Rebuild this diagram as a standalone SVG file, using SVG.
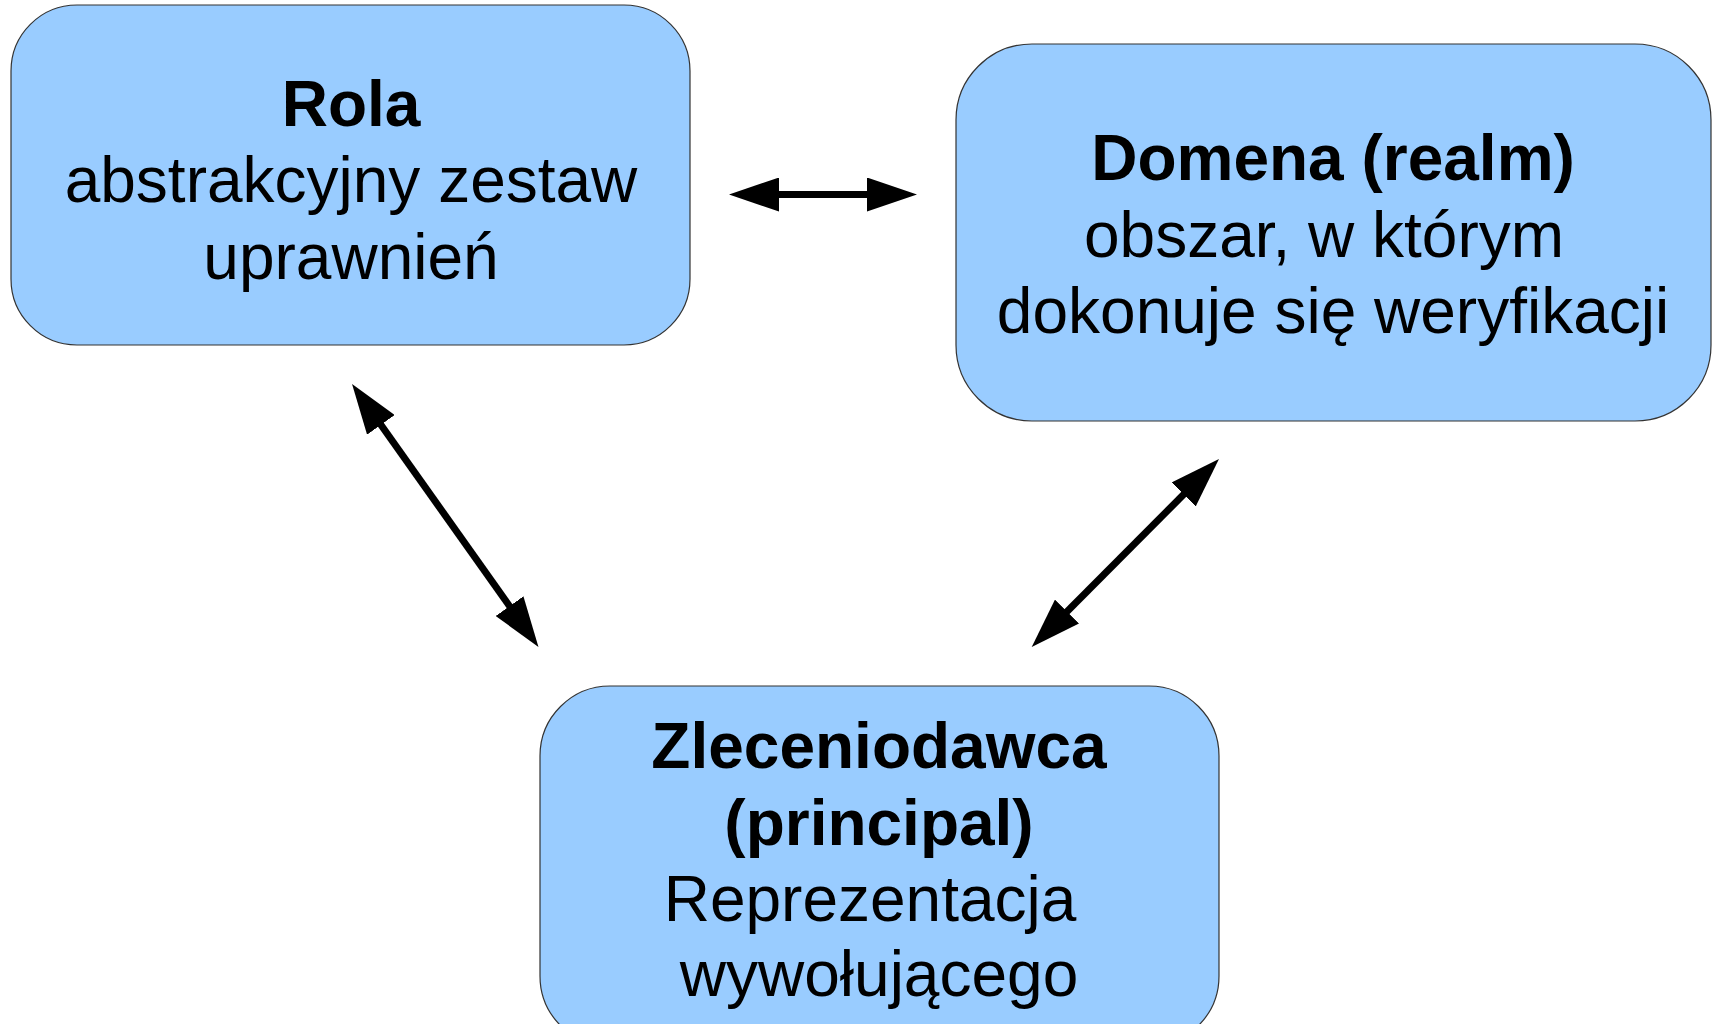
<svg xmlns="http://www.w3.org/2000/svg" width="1713" height="1024" viewBox="0 0 1713 1024">
<style>
.box{fill:#99ccff;stroke:#333333;stroke-width:1.2}
.t{font-family:"Liberation Sans",Arial,sans-serif;font-size:64px;fill:#000;text-anchor:middle}
.b{font-weight:bold}
.c{stroke:#000;stroke-width:7;fill:none}
</style>
<defs>
<marker id="ah" viewBox="0 0 50 34" markerWidth="50" markerHeight="34" markerUnits="userSpaceOnUse" refX="2" refY="17" orient="auto-start-reverse">
<path d="M0,0 L50,17 L0,34 z" fill="#000"/>
</marker>
</defs>
<rect width="1713" height="1024" fill="#fff"/>
<g id="rola">
<rect class="box" x="11" y="5" width="679" height="340" rx="66" ry="66"/>
<text class="t b" x="351" y="126">Rola</text>
<text class="t" x="351" y="202">abstrakcyjny zestaw</text>
<text class="t" x="351" y="279">uprawnień</text>
</g>
<g id="domena">
<rect class="box" x="956" y="44" width="755" height="377" rx="76" ry="76"/>
<text class="t b" x="1333" y="180">Domena (realm)</text>
<text class="t" x="1324" y="257">obszar, w którym</text>
<text class="t" x="1333" y="333">dokonuje się weryfikacji</text>
</g>
<g id="zleceniodawca">
<rect class="box" x="540" y="686" width="679" height="360" rx="70" ry="70"/>
<text class="t b" x="879" y="768">Zleceniodawca</text>
<text class="t b" x="879" y="845">(principal)</text>
<text class="t" x="870" y="921">Reprezentacja</text>
<text class="t" x="879" y="996">wywołującego</text>
</g>
<g id="connectors">
<line class="c" x1="777" y1="194.5" x2="869" y2="194.5" marker-start="url(#ah)" marker-end="url(#ah)"/>
<line class="c" x1="379.8" y1="423.2" x2="510.7" y2="607.8" marker-start="url(#ah)" marker-end="url(#ah)"/>
<line class="c" x1="1185.1" y1="493" x2="1065.6" y2="613" marker-start="url(#ah)" marker-end="url(#ah)"/>
</g>
</svg>
